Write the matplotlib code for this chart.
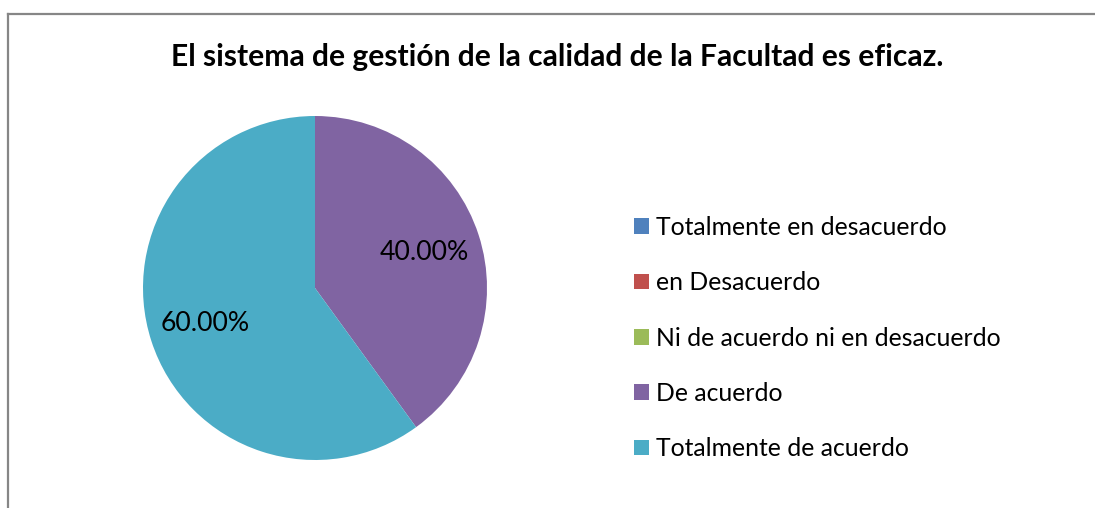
import matplotlib
matplotlib.use("Agg")
import matplotlib.pyplot as plt
from matplotlib.patches import Patch
from matplotlib.lines import Line2D

plt.rcParams['font.family'] = ['Lato', 'DejaVu Sans']

title = 'El sistema de gestión de la calidad de la Facultad es eficaz.'
categories = ['Totalmente en desacuerdo', 'en Desacuerdo',
              'Ni de acuerdo ni en desacuerdo', 'De acuerdo',
              'Totalmente de acuerdo']
values = [0, 0, 0, 40, 60]
colors = ['#4F81BD', '#C0504D', '#9BBB59', '#8064A2', '#4BACC6']

W, H = 1095, 508
fig = plt.figure(figsize=(W / 100, H / 100), dpi=100)

# chart frame (top and left edges visible)
fig.add_artist(Line2D([8 / W, 8 / W], [0, 1 - 14 / H], color='#868686', lw=1.6))
fig.add_artist(Line2D([8 / W, 1], [1 - 14 / H, 1 - 14 / H], color='#868686', lw=1.6))

fig.text(557 / W, 1 - 57 / H, title, ha='center', va='center',
         fontsize=21.6, fontweight='bold')

# pie axes: centre (315, 288), radius 172 px
cx, cy, r = 315, 288, 172
ax = fig.add_axes([(cx - r) / W, (H - cy - r) / H, 2 * r / W, 2 * r / H])


def pct(p):
    return f'{p:.2f}%' if p > 0 else ''


ax.pie(values, colors=colors, startangle=90, counterclock=False,
       autopct=pct, pctdistance=0.67, radius=1,
       wedgeprops=dict(linewidth=0), textprops=dict(fontsize=19.2))
ax.set_xlim(-1, 1)
ax.set_ylim(-1, 1)
ax.axis('off')

handles = [Patch(facecolor=c, edgecolor='none') for c in colors]
fig.legend(handles, categories, loc='center left',
           bbox_to_anchor=(634 / W, 1 - 338 / H), frameon=False,
           fontsize=17.8, handlelength=0.6, handleheight=0.6,
           handletextpad=0.28, labelspacing=1.31, borderpad=0,
           borderaxespad=0)

fig.savefig('out.png', dpi=100)
